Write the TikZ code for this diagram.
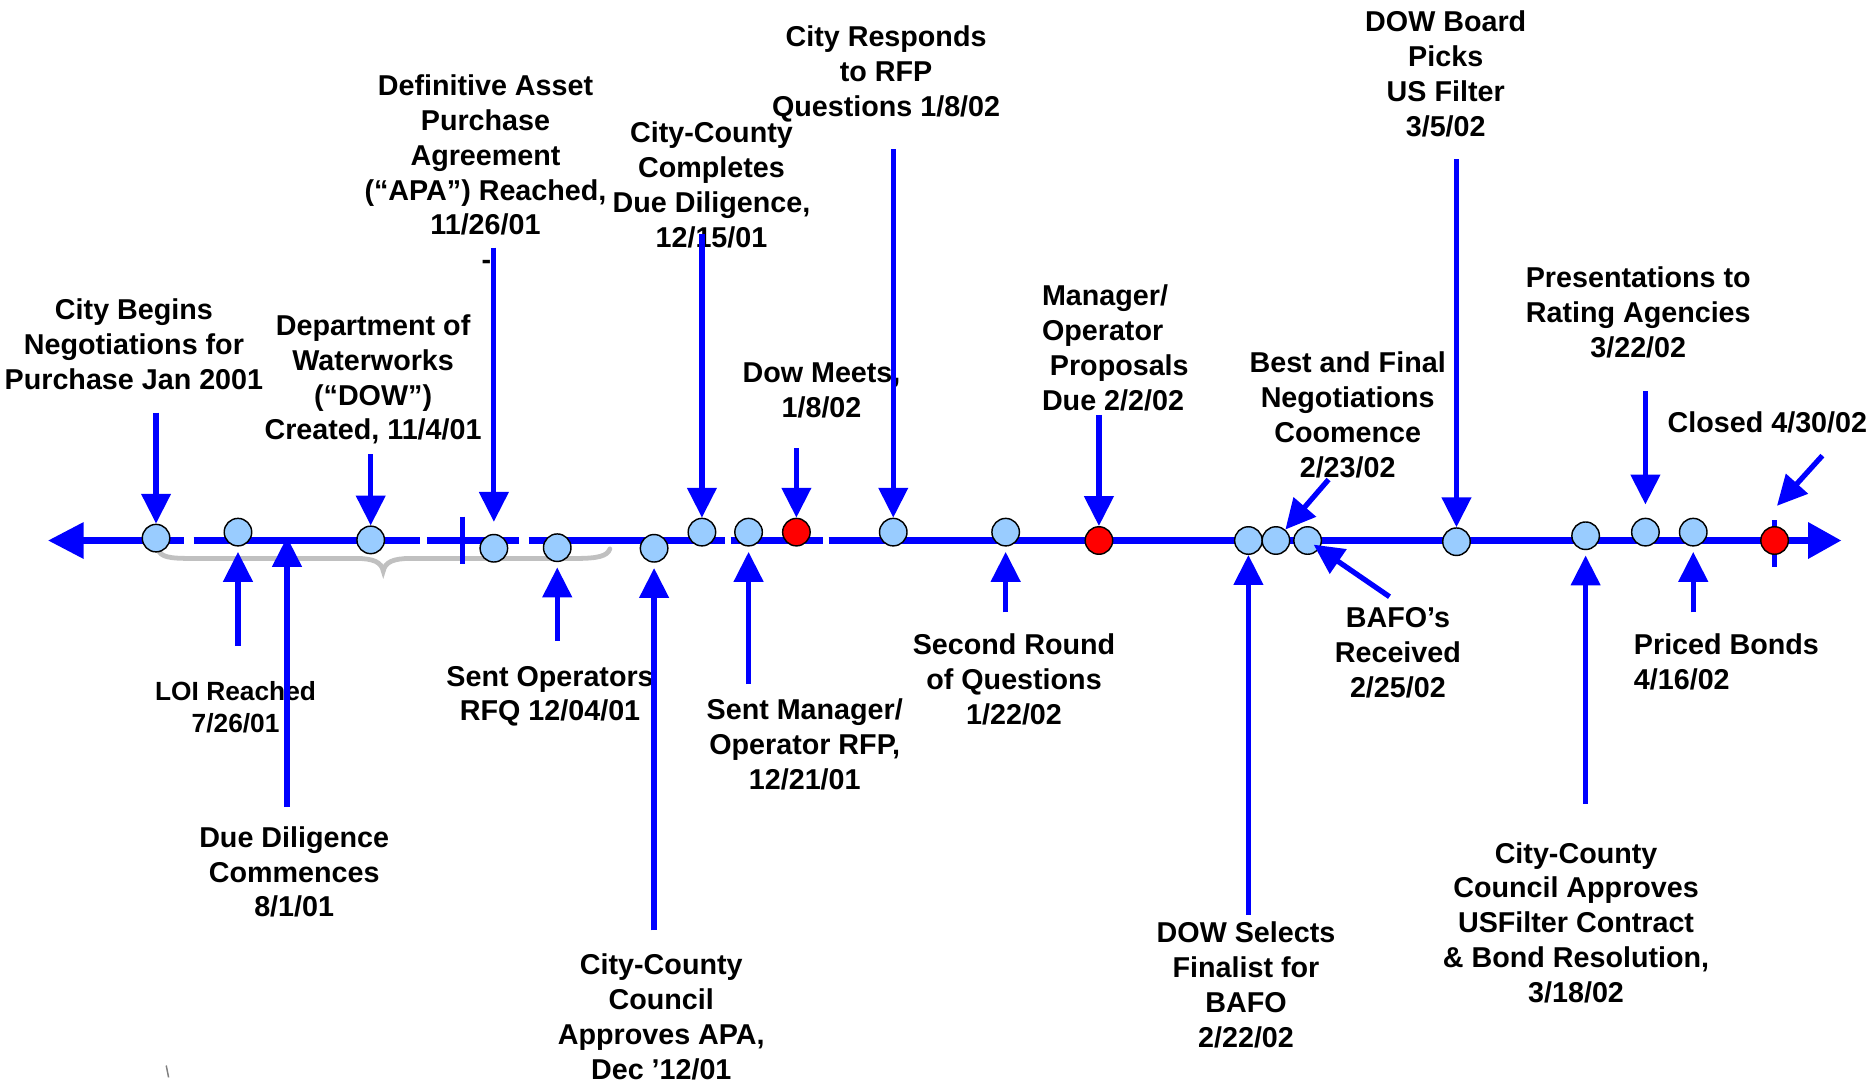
\documentclass[tikz,border=0pt]{standalone}
\usepackage{fontspec}
\setmainfont{Liberation Sans}
\usetikzlibrary{arrows.meta}

\definecolor{tlblue}{RGB}{0,0,255}
\definecolor{dotblue}{RGB}{153,204,255}
\definecolor{bracegray}{RGB}{192,192,192}

\begin{document}
\begin{tikzpicture}[x=0.5pt, y=-0.5pt,
	evt/.style={font=\bfseries\fontsize{12}{14.6}\selectfont, align=center, inner sep=0pt, yshift=-1pt,
		execute at begin node=\strut, execute at end node=\strut},
	dot/.style={circle, draw=black, line width=0.6pt, fill=dotblue, minimum size=11.5pt, inner sep=0pt},
	reddot/.style={dot, fill=red},
	ptr/.style={draw=tlblue, line width=2.2pt, -{Triangle[length=12.5pt,width=12pt]}},
	ptrup/.style={ptr, shorten >=2.2pt},
	axis/.style={draw=tlblue, line width=3.2pt}]
				\useasboundingbox (0,0) rectangle (1568,906);
				%time axis, broken in a few places
				\coordinate (tl) at (40,452);
				\coordinate (tr) at (1540,452);
				\draw[axis, {Triangle[length=15pt,width=14.5pt]}-] (tl) -- (154,452);
				\draw[axis] (162,452) -- (351,452);
				\draw[axis] (357,452) -- (434,452);
				\draw[axis] (442,452) -- (606,452);
				\draw[axis] (611,452) -- (688,452);
				\draw[axis, -{Triangle[length=14pt,width=14.5pt]}] (693,452) -- (tr);
				%grey brace under the first months
				\draw[bracegray, line width=2pt, line cap=round] (132,459) .. controls (134,466) and (142,467) .. (160,467) -- (298,467) .. controls (312,467) and (319,470) .. (320.5,477.5) .. controls (322,470) and (329,467) .. (343,467) -- (482,467) .. controls (500,467) and (508,465) .. (510,459);
				%ticks
				\draw[tlblue, line width=2.1pt] (387,432) -- (387,472);
				\draw[tlblue, line width=2.1pt] (1484,435) -- (1484,474);
				%events on the axis
				\node[dot] (c1) at (130.5,450) {};
				\node[dot] (c2) at (199,445) {};
				\node[dot] (c3) at (310,451.5) {};
				\node[dot] (c4) at (413,458.5) {};
				\node[dot] (c5) at (466,458) {};
				\node[dot] (c6) at (547,458.5) {};
				\node[dot] (c7) at (587,445) {};
				\node[dot] (c8) at (626,445) {};
				\node[reddot] (r1) at (666,445) {};
				\node[dot] (c9) at (747,445) {};
				\node[dot] (c10) at (841,445) {};
				\node[reddot] (r2) at (919,452) {};
				\node[dot] (c11) at (1044,452) {};
				\node[dot] (c12) at (1067,452) {};
				\node[dot] (c13) at (1093.5,452) {};
				\node[dot] (c14) at (1218,453) {};
				\node[dot] (c15) at (1326,448) {};
				\node[dot] (c16) at (1376,445) {};
				\node[dot] (c17) at (1416,445) {};
				\node[reddot] (r3) at (1484,452) {};
				%labels above the axis
				\node[evt] (begins) at (112,289.8) {City Begins\\Negotiations for\\Purchase Jan 2001};
				\node[evt] (dowmade) at (312,317.8) {Department of\\Waterworks\\(“DOW”)\\Created, 11/4/01};
				\node[evt] (apa) at (406,131.8) {Definitive Asset\\Purchase\\Agreement\\(“APA”) Reached,\\11/26/01};
				\node[evt] (dash) at (406.7,217.5) {-};
				\node[evt] (ccdd) at (595,156.8) {City-County\\Completes\\Due Diligence,\\12/15/01};
				\node[evt] (responds) at (741,61.8) {City Responds\\to RFP\\Questions 1/8/02};
				\node[evt] (meets) at (687,328.3) {Dow Meets,\\1/8/02};
				\node[evt, anchor=west, align=left] (mgrdue) at (871,293.3) {Manager/\\Operator\\\hspace{3.3pt}Proposals\\Due 2/2/02};
				\node[evt] (picks) at (1209,63.8) {DOW Board\\Picks\\US Filter\\3/5/02};
				\node[evt] (bafonego) at (1127,348.8) {Best and Final\\Negotiations\\Coomence\\2/23/02};
				\node[evt] (rating) at (1370,263.3) {Presentations to\\Rating Agencies\\3/22/02};
				\node[evt] (closed) at (1478,353.8) {Closed 4/30/02};
				%labels below the axis
				\node[evt, font=\bfseries\fontsize{11}{13.5}\selectfont] (loi) at (197,593) {LOI Reached\\7/26/01};
				\node[evt] (ddstart) at (246,731.3) {Due Diligence\\Commences\\8/1/01};
				\node[evt] (rfq) at (460,582.3) {Sent Operators\\RFQ 12/04/01};
				\node[evt] (ccapa) at (553,852.8) {City-County\\Council\\Approves APA,\\Dec ’12/01};
				\node[evt] (mgrrfp) at (673,624.3) {Sent Manager/\\Operator RFP,\\12/21/01};
				\node[evt] (second) at (848,570.3) {Second Round\\of Questions\\1/22/02};
				\node[evt] (finalist) at (1042,825.8) {DOW Selects\\Finalist for\\BAFO\\2/22/02};
				\node[evt] (received) at (1169,548.3) {BAFO’s\\Received\\2/25/02};
				\node[evt] (usf) at (1318,773.8) {City-County\\Council Approves\\USFilter Contract\\\& Bond Resolution,\\3/18/02};
				\node[evt, anchor=west, align=left] (priced) at (1366,555.3) {Priced Bonds\\4/16/02};
				%pointers from above
				\draw[ptr] (c1 |- 0,345) -- (c1);
				\draw[ptr] (c3 |- 0,380) -- (c3);
				\draw[ptr, shorten >=5pt] (c4 |- 0,207) -- (c4);
				\draw[ptr] (c7 |- 0,196) -- (c7);
				\draw[ptr] (c9 |- 0,125) -- (c9);
				\draw[ptr] (r1 |- 0,375) -- (r1);
				\draw[ptr] (r2 |- 0,347) -- (r2);
				\draw[ptr] (c14 |- 0,133) -- (c14);
				\coordinate (bafotail) at (1111,401);
				\draw[ptr] (bafotail) -- (c12);
				\draw[ptr, shorten >=5.5pt] (c16 |- 0,327) -- (c16);
				\coordinate (closedtail) at (1524,381);
				\coordinate (closedtip) at (1486,423);
				\draw[ptr] (closedtail) -- (closedtip);
				%pointers from below
				\draw[ptrup] (c2 |- 0,540) -- (c2);
				\coordinate (ddtip) at (240,449);
				\draw[ptr] (240,675) -- (ddtip);
				\draw[ptrup] (c5 |- 0,536) -- (c5);
				\draw[ptrup] (c6 |- 0,778) -- (c6);
				\draw[ptrup] (c8 |- 0,572) -- (c8);
				\draw[ptrup] (c10 |- 0,512) -- (c10);
				\draw[ptr] (c11 |- 0,765) -- (c11);
				\coordinate (rectail) at (1162,499);
				\draw[ptr, shorten >=-3pt] (rectail) -- (c13);
				\draw[ptrup] (c15 |- 0,672) -- (c15);
				\draw[ptrup] (c17 |- 0,512) -- (c17);
				%stray mark
				\draw[gray, line width=0.6pt] (139,891) -- (140,896) -- (141,901);
			\end{tikzpicture}
\end{document}
